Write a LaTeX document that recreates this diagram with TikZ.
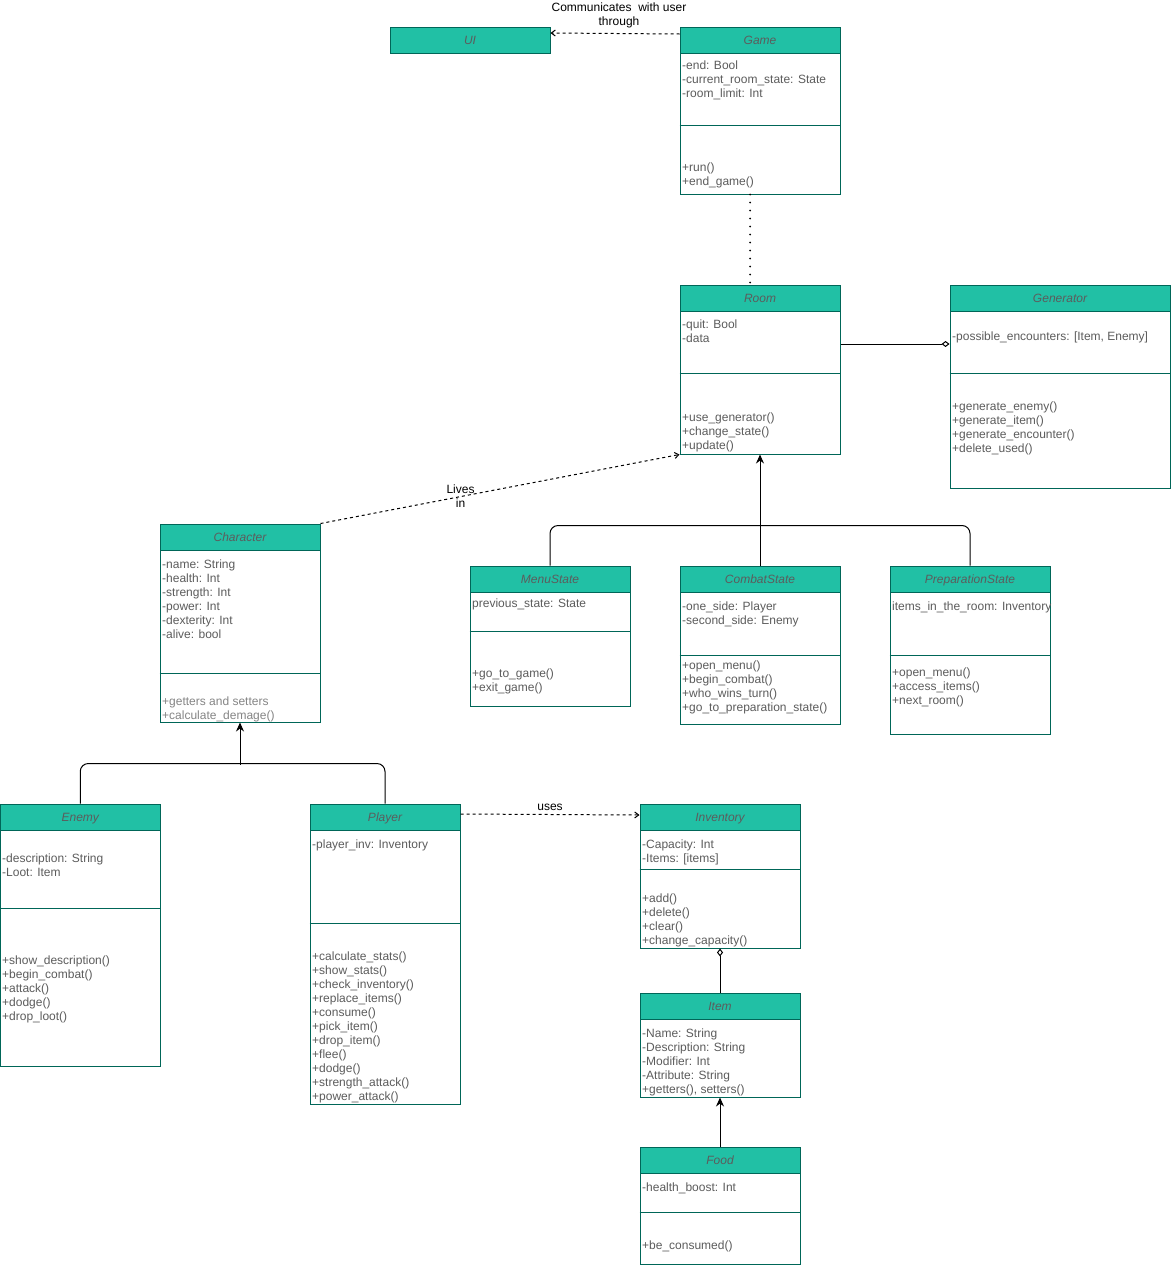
\documentclass[tikz,border=0pt]{standalone}
\usepackage{fontspec}
\setmainfont{Liberation Sans}
\usetikzlibrary{arrows.meta,calc,fit}

\definecolor{hdr}{HTML}{21C0A5}
\definecolor{stk}{HTML}{006658}
\definecolor{ink}{HTML}{5C5C5C}
\definecolor{inklight}{HTML}{858585}

\tikzset{
  body/.style={draw=stk, line width=1pt, fill=white, inner sep=0pt},
  head/.style={draw=stk, line width=1pt, fill=hdr, inner sep=0pt},
  title/.style={inner sep=0pt, text=ink, text height=9pt, text depth=2pt,
    font=\fontsize{12pt}{14pt}\selectfont\itshape},
  txt/.style={anchor=north west, inner sep=0pt, align=left, text=ink,
    font=\fontsize{12pt}{14pt}\selectfont},
  lbl/.style={inner sep=0pt, align=center, text=black,
    font=\fontsize{12pt}{14pt}\selectfont},
  conn/.style={draw=black, line width=1pt},
  openarrow/.style={-{Straight Barb[length=4pt,width=6pt]}},
  inherit/.style={-{Stealth[length=9pt,width=8pt]}},
  aggreg/.style={-{Diamond[open,length=8pt,width=6pt]}},
}

% class box: id, left, top, right, bottom, title
\newcommand\umlclass[6]{%
  \node[body, fit={(#2,#3) (#4,#5)}] (#1) {};
  \node[head, fit={(#2,#3) (#4,{#3+26})}] (#1-h) {};
  \node[title] (#1-t) at ([yshift=-1pt]#1-h.center) {#6};
}
% compartment separator: id, y
\newcommand\divider[2]{%
  \draw[stk, line width=1pt] (#1.west |- 0,#2) -- (#1.east |- 0,#2);
}
% compartment text: id, left, y of first line, lines
\newcommand\cmpt[4]{%
  \node[txt] (#1) at ({#2+2},{#3-6}) {\strut #4};
}

\begin{document}
\begin{tikzpicture}[x=1pt, y=-1pt]
\useasboundingbox (0,0) rectangle (1171,1266);

% ---- classes ----
\umlclass{ui}{390}{27}{550}{52}{UI}

\umlclass{game}{680}{27}{840}{194}{Game}
\divider{game}{125}
\cmpt{game-a}{680}{65}{-end: Bool\\-current\_room\_state: State\\-room\_limit: Int}
\cmpt{game-m}{680}{167}{+run()\\+end\_game()}

\umlclass{room}{680}{285}{840}{454}{Room}
\divider{room}{373}
\cmpt{room-a}{680}{324}{-quit: Bool\\-data}
\cmpt{room-m}{680}{417}{+use\_generator()\\+change\_state()\\+update()}

\umlclass{gen}{950}{285}{1170}{488}{Generator}
\divider{gen}{373}
\cmpt{gen-a}{950}{336}{-possible\_encounters: [Item, Enemy]}
\cmpt{gen-m}{950}{406}{+generate\_enemy()\\+generate\_item()\\+generate\_encounter()\\+delete\_used()}

\umlclass{char}{160}{524}{320}{722}{Character}
\divider{char}{673}
\cmpt{char-a}{160}{564}{-name: String\\-health: Int\\-strength: Int\\-power: Int\\-dexterity: Int\\-alive: bool}
\node[txt, text=inklight] (char-m) at (162,695) {\strut +getters and setters\\+calculate\_demage()};

\umlclass{menu}{470}{566}{630}{706}{MenuState}
\divider{menu}{631}
\cmpt{menu-a}{470}{603}{previous\_state: State}
\cmpt{menu-m}{470}{673}{+go\_to\_game()\\+exit\_game()}

\umlclass{combat}{680}{566}{840}{724}{CombatState}
\divider{combat}{655}
\cmpt{combat-a}{680}{606}{-one\_side: Player\\-second\_side: Enemy}
\cmpt{combat-m}{680}{665}{+open\_menu()\\+begin\_combat()\\+who\_wins\_turn()\\+go\_to\_preparation\_state()}

\umlclass{prep}{890}{566}{1050}{734}{PreparationState}
\divider{prep}{655}
\cmpt{prep-a}{890}{606}{items\_in\_the\_room: Inventory}
\cmpt{prep-m}{890}{672}{+open\_menu()\\+access\_items()\\+next\_room()}

\umlclass{enemy}{0.5}{804}{160}{1066}{Enemy}
\divider{enemy}{908}
\cmpt{enemy-a}{0}{858}{-description: String\\-Loot: Item}
\cmpt{enemy-m}{0}{960}{+show\_description()\\+begin\_combat()\\+attack()\\+dodge()\\+drop\_loot()}

\umlclass{player}{310}{804}{460}{1104}{Player}
\divider{player}{923}
\cmpt{player-a}{310}{844}{-player\_inv: Inventory}
\cmpt{player-m}{310}{956}{+calculate\_stats()\\+show\_stats()\\+check\_inventory()\\+replace\_items()\\+consume()\\+pick\_item()\\+drop\_item()\\+flee()\\+dodge()\\+strength\_attack()\\+power\_attack()}

\umlclass{inv}{640}{804}{800}{948}{Inventory}
\divider{inv}{869}
\cmpt{inv-a}{640}{844}{-Capacity: Int\\-Items: [items]}
\cmpt{inv-m}{640}{898}{+add()\\+delete()\\+clear()\\+change\_capacity()}

\umlclass{item}{640}{993}{800}{1097}{Item}
\cmpt{item-a}{640}{1033}{-Name: String\\-Description: String\\-Modifier: Int\\-Attribute: String\\+getters(), setters()}

\umlclass{food}{640}{1147}{800}{1264.5}{Food}
\divider{food}{1212}
\cmpt{food-a}{640}{1187}{-health\_boost: Int}
\cmpt{food-m}{640}{1245}{+be\_consumed()}

% ---- relations ----
\draw[conn, dashed, openarrow] ([yshift=6pt]game-h.west) -- ([yshift=7pt]ui-h.east)
  node[lbl, midway, above=5pt, xshift=4pt] (lbl-ui) {Communicates\ \ with user\\through};

\draw[conn, line width=2pt, line cap=round, dash pattern=on 0pt off 8pt]
  ([xshift=-10pt]game.south) -- ([xshift=-10pt]room-h.north);

\draw[conn, aggreg] ([yshift=25.5pt]room.east) -- ([yshift=42.5pt]gen.west);

\draw[conn, dashed, openarrow] (char-h.north east) -- (room.south west)
  node[lbl, pos=0.39] (lbl-lives) {Lives\\in};

\draw[conn, rounded corners=8pt] (menu-h.north) |- ($(prep-h.north)+(0,-40)$) -- (prep-h.north);
\draw[conn, inherit] (combat-h.north) -- (room.south);

\draw[conn, rounded corners=8pt] (enemy-h.north) |- ($(player-h.north)+(0,-40)$) -- (player-h.north);
\draw[conn, inherit] ($(char.south)+(0,42)$) -- (char.south);

\draw[conn, dashed, openarrow] ([yshift=3pt]player-h.east) -- ([yshift=2pt]inv-h.west)
  node[lbl, midway, above=3pt] (lbl-uses) {uses};

\draw[conn, aggreg] (item-h.north) -- (inv.south);
\draw[conn, inherit] (food-h.north) -- (item.south);
\end{tikzpicture}
\end{document}
